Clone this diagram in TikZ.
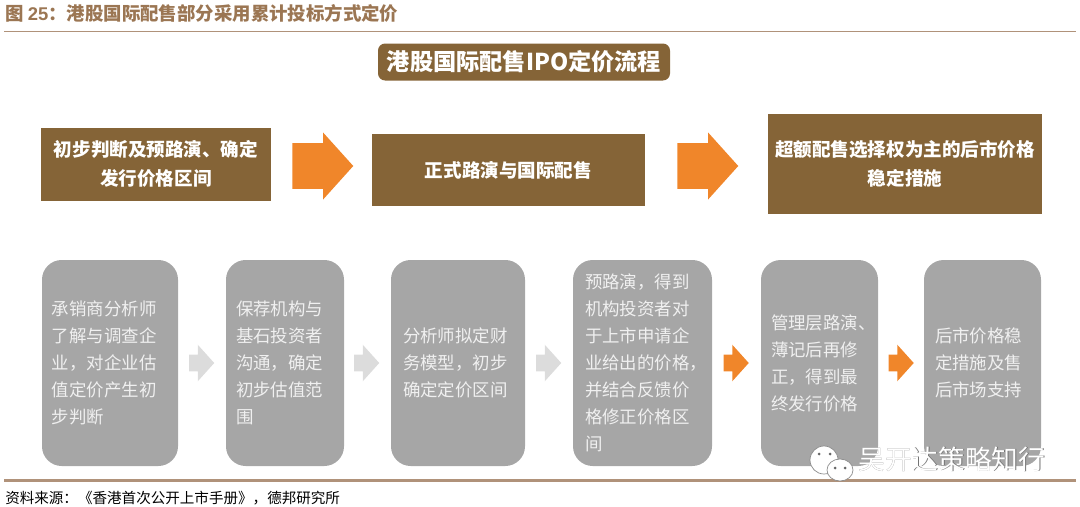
\documentclass[tikz,border=0pt]{standalone}
\usepackage{fontspec}
\setmainfont{Noto Sans CJK SC}
\newfontfamily\latinfont{Liberation Sans}
\usetikzlibrary{shapes.arrows}
\definecolor{brownfill}{HTML}{856437}
\definecolor{captionbrown}{HTML}{9B7653}
\definecolor{rulebrown}{HTML}{B0927A}
\definecolor{greyfill}{HTML}{A6A6A6}
\definecolor{greytext}{HTML}{F0F0F0}
\definecolor{lightarrow}{HTML}{DCDCDC}
\definecolor{orangearrow}{HTML}{F0862A}
\newcommand{\px}{0.025cm}
\tikzset{
  rulebar/.style={rulebrown, line width=1.2pt},
  titlebox/.style={fill=brownfill, text=white, rounded corners=5pt, inner sep=0pt, font=\fontsize{16.5}{19}\selectfont\bfseries},
  brownbox/.style={fill=brownfill, text=white, inner sep=0pt, align=center, font=\fontsize{13.2}{20.6}\selectfont\bfseries},
  greybox/.style 2 args={fill=greyfill, text=greytext, rounded corners=14pt, inner ysep=0pt, inner xsep=#2*\px, minimum width=#1*\px, text width=(#1-2*#2)*\px, align=left, minimum height=206*\px, font=\fontsize{12.4}{19.2}\selectfont},
  bigarrow/.style={single arrow, fill=orangearrow, inner xsep=0pt, inner ysep=21*\px, minimum height=61*\px, minimum width=67*\px, single arrow tip angle=96},
  smallarrow/.style={single arrow, inner xsep=0pt, inner ysep=8*\px, minimum height=25*\px, minimum width=28*\px, single arrow tip angle=96},
  bubble/.style={fill=white, draw=black!45, line width=0.5pt},
  eye/.style={fill=black!60}
}
\begin{document}
\begin{tikzpicture}[x=0.025cm, y=-0.025cm]
  \useasboundingbox (0,0) rectangle (1080,507);
  % caption and source
  \node[anchor=west, inner sep=0pt, text=captionbrown, font=\fontsize{13.1}{15}\selectfont\bfseries] (caption) at (5,13) {图 {\latinfont 25}：港股国际配售部分采用累计投标方式定价};
  \draw[rulebar] (4,31.5) -- (1076,31.5);
  \draw[rulebar, line width=1.6pt] (4,480.5) -- (1076,480.5);
  \node[anchor=west, inner sep=0pt, font=\fontsize{10.35}{12}\selectfont] (source) at (5,498) {资料来源：《香港首次公开上市手册》，德邦研究所};
  % top row
  \node[titlebox, minimum width=292*\px, minimum height=37*\px] (title) at (524,62) {港股国际配售IPO定价流程};
  \node[brownbox, minimum width=230*\px, minimum height=73*\px] (phaseone) at (156,164) {初步判断及预路演、确定\\发行价格区间};
  \node[brownbox, minimum width=273*\px, minimum height=72*\px] (phasetwo) at (508.5,170) {正式路演与国际配售};
  \node[brownbox, minimum width=274*\px, minimum height=100*\px] (phasethree) at (905,164) {超额配售选择权为主的后市价格\\稳定措施};
  \node[bigarrow] (arrowone) at (312.5,166) {};
  \node[bigarrow] (arrowtwo) at (697.5,166) {};
  % bottom row
  \node[greybox={136}{10}] (stepa) at (110,363) {承销商分析师\\了解与调查企\\业，对企业估\\值定价产生初\\步判断};
  \node[greybox={118}{10}] (stepb) at (285,363) {保荐机构与\\基石投资者\\沟通，确定\\初步估值范\\围};
  \node[greybox={134}{12}] (stepc) at (458,363) {分析师拟定财\\务模型，初步\\确定定价区间};
  \node[greybox={139}{12}] (stepd) at (642.5,363) {预路演，得到\\机构投资者对\\于上市申请企\\业给出的价格，\\并结合反馈价\\格修正价格区\\间};
  \node[greybox={117}{10}] (stepe) at (819.5,363) {管理层路演、\\薄记后再修\\正，得到最\\终发行价格};
  \node[greybox={117}{11}] (stepf) at (982.5,363) {后市价格稳\\定措施及售\\后市场支持};
  \node[smallarrow, fill=lightarrow] (arrowa) at (198,363) {};
  \node[smallarrow, fill=lightarrow] (arrowb) at (363,363) {};
  \node[smallarrow, fill=lightarrow] (arrowc) at (545,363) {};
  \node[smallarrow, fill=orangearrow] (arrowd) at (732.5,363) {};
  \node[smallarrow, fill=orangearrow] (arrowe) at (897.5,363) {};
  % watermark
  \draw[bubble] (824,460) ellipse (14 and 14);
  \draw[bubble] (840,470) ellipse (13 and 11);
  \foreach \ex/\ey in {819/454,830/454,835/468,845/468}{
    \fill[eye] (\ex,\ey) circle (1.5);
  }
  \node[anchor=west, inner sep=0pt, text=black!55, font=\fontsize{19}{22}\selectfont] (markshadow) at (858.7,459.7) {吴开达策略知行};
  \node[anchor=west, inner sep=0pt, text=white, font=\fontsize{19}{22}\selectfont] (mark) at (858,459) {吴开达策略知行};
\end{tikzpicture}
\end{document}
